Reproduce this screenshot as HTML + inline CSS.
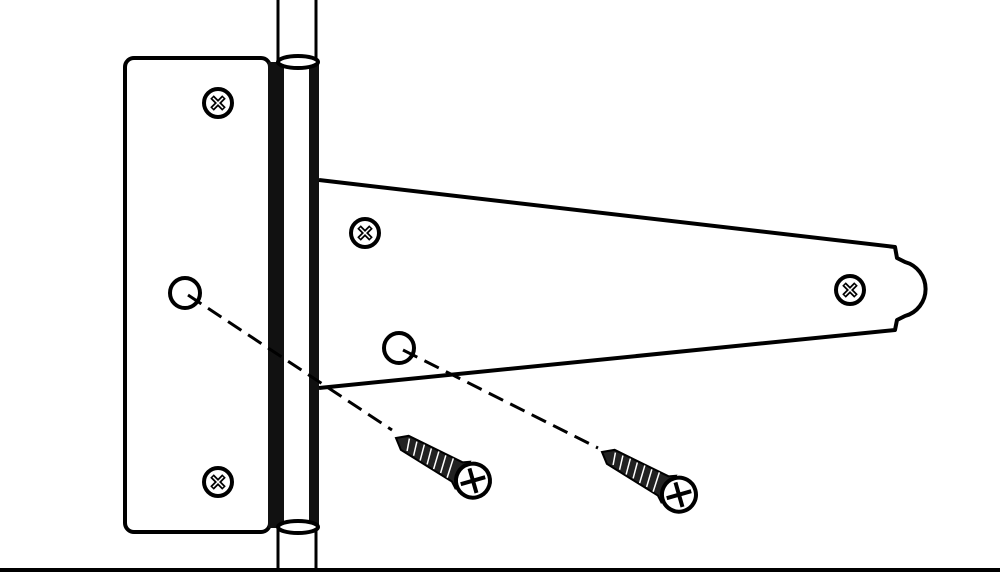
<!DOCTYPE html>
<html><head><style>html,body{margin:0;padding:0;background:#fff}svg{display:block}</style></head>
<body>
<svg width="1000" height="579" viewBox="0 0 1000 579" xmlns="http://www.w3.org/2000/svg">
<defs>
<g id="scr">
  <circle r="14" fill="#fff" stroke="#000" stroke-width="4"/>
  <path d="M-6,-6 L6,6 M6,-6 L-6,6" stroke="#000" stroke-width="5"/>
  <path d="M-5,-5 L5,5 M5,-5 L-5,5" stroke="#fff" stroke-width="1.5"/>
</g>
<g id="lscrew">
  <path d="M0,0 L10,-8 L70,-11 L76,-15 L76,15 L70,11 L10,8 Z" fill="#222" stroke="#000" stroke-width="2"/>
  <path d="M12,-6 l4,12 M20,-7 l4,14 M28,-8 l4,16 M36,-8 l4,16 M44,-9 l4,18 M52,-9 l4,18 M60,-10 l4,20" stroke="#fff" stroke-width="1.5"/>
  <circle cx="88" cy="0" r="17" fill="#fff" stroke="#000" stroke-width="4"/>
  <path d="M79,-9 L97,9 M97,-9 L79,9" stroke="#000" stroke-width="4"/>
</g>
</defs>
<line x1="278" y1="0" x2="278" y2="572" stroke="#000" stroke-width="3"/>
<line x1="316" y1="0" x2="316" y2="572" stroke="#000" stroke-width="3"/>
<line x1="0" y1="570" x2="1000" y2="570" stroke="#000" stroke-width="4"/>
<rect x="125" y="58" width="145" height="474" rx="9" fill="#fff" stroke="#000" stroke-width="4"/>
<rect x="268" y="62" width="17" height="466" fill="#111"/>
<rect x="284" y="62" width="26" height="466" fill="#fff"/>
<rect x="309" y="62" width="10" height="466" fill="#111"/>
<ellipse cx="298" cy="62" rx="20" ry="6" fill="#fff" stroke="#000" stroke-width="4"/>
<ellipse cx="298" cy="527" rx="20" ry="6" fill="#fff" stroke="#000" stroke-width="4"/>
<path d="M319,180 L895,247 L897,258 L905,262 A28,28 0 0 1 905,316 L897,320 L895,330 L319,388" fill="#fff" stroke="#000" stroke-width="4" stroke-linejoin="round"/>
<use href="#scr" x="218" y="103"/>
<use href="#scr" x="365" y="233"/>
<use href="#scr" x="850" y="290"/>
<use href="#scr" x="218" y="482"/>
<circle cx="185" cy="293" r="15" fill="#fff" stroke="#000" stroke-width="4"/>
<circle cx="399" cy="348" r="15" fill="#fff" stroke="#000" stroke-width="4"/>
<line x1="188" y1="295" x2="392" y2="430" stroke="#000" stroke-width="3" stroke-dasharray="16,8"/>
<line x1="403" y1="350" x2="598" y2="448" stroke="#000" stroke-width="3" stroke-dasharray="16,8"/>
<g transform="translate(396,438) rotate(29)"><use href="#lscrew"/></g>
<g transform="translate(602,452) rotate(29)"><use href="#lscrew"/></g>
</svg>
</body></html>
